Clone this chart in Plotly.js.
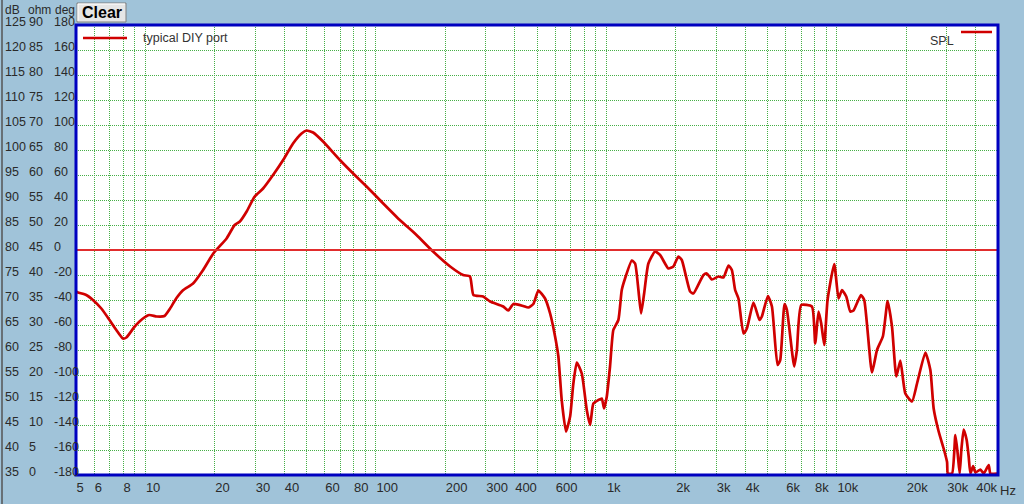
<!DOCTYPE html>
<html>
<head>
<meta charset="utf-8">
<script src="https://cdn.plot.ly/plotly-3.0.1.min.js"></script>
<style>
html,body{margin:0;padding:0;background:#a0c3d9;}
#chart{width:1024px;height:504px;}
</style>
</head>
<body>
<div id="chart"></div>
<script>
// ---- data ----
const freqHz = [5, 5.1, 5.54, 5.92, 6.44, 6.99, 7.48, 7.99, 8.27, 8.99,
  9.76, 10.4, 11.2, 12.1, 12.8, 13.6, 14.6, 16.1, 17.8, 19.7,
  22.5, 24.4, 25.7, 27.5, 29.8, 32.4, 35.8, 39.6, 43.7, 47.6,
  50.0, 53.4, 59.0, 69.8, 79.7, 91.1, 104, 127, 150, 177,
  210, 239, 256, 265, 292, 313, 357, 375, 395, 436,
  458, 482, 507, 542, 570, 599, 619, 640, 668, 696,
  719, 744, 782, 822, 850, 878, 923, 955, 977, 1004,
  1037, 1072, 1127, 1166, 1205, 1289, 1332, 1377, 1414, 1458,
  1521, 1627, 1710, 1858, 1953, 2053, 2124, 2308, 2386, 2638,
  2729, 2868, 3063, 3220, 3385, 3502, 3619, 3741, 3932, 4069,
  4346, 4615, 4727, 5020, 5226, 5526, 5678, 5927, 6071, 6530,
  6707, 7004, 7792, 8053, 8324, 8552, 8815, 9110, 9742, 10170,
  10520, 10980, 11430, 11810, 12720, 13140, 14200, 14930, 15850, 16600,
  17340, 18110, 18850, 19810, 21180, 22270, 24200, 25440, 26290, 27640,
  29050, 30060, 30300, 31600, 32660, 33420, 34090, 34670, 35480, 36560,
  37300, 37940, 38990, 39890, 41930, 43340, 45560, 46340, 49550];

const splDb = [71.7, 71.5, 71.0, 70.0, 68.3, 66.0, 64.0, 62.3, 62.5, 64.7,
  66.3, 67.0, 66.7, 66.8, 68.3, 70.3, 72.0, 73.3, 76.0, 79.3,
  82.3, 85.0, 85.7, 87.7, 90.7, 92.3, 95.0, 98.0, 101.3, 103.3,
  103.9, 103.5, 101.7, 98.0, 95.3, 92.7, 90.0, 86.0, 83.0, 79.7,
  76.7, 75.0, 74.7, 71.0, 70.7, 69.7, 68.7, 67.9, 69.2, 68.8,
  68.5, 69.2, 71.9, 70.3, 67.3, 62.7, 58.7, 50.0, 43.7, 46.7,
  53.3, 57.5, 55.3, 48.0, 45.0, 49.3, 50.0, 50.3, 48.3, 50.7,
  56.7, 64.0, 66.0, 72.0, 74.3, 77.9, 77.3, 72.0, 67.3, 71.3,
  77.3, 79.7, 79.0, 76.3, 76.7, 78.7, 78.0, 71.7, 71.3, 75.0,
  75.3, 74.1, 74.7, 74.5, 76.9, 76.0, 72.0, 70.3, 63.3, 64.3,
  69.5, 66.0, 66.7, 70.8, 68.7, 57.0, 58.0, 69.2, 68.0, 56.7,
  60.0, 69.0, 68.7, 61.3, 67.7, 65.3, 61.0, 70.0, 77.2, 70.3,
  72.0, 70.7, 67.7, 67.9, 71.0, 70.0, 55.5, 60.0, 62.8, 69.8,
  64.7, 54.7, 57.9, 51.3, 49.7, 53.3, 59.5, 56.0, 48.3, 43.7,
  40.3, 37.6, 35.3, 35.3, 43.0, 39.3, 35.3, 40.0, 44.1, 42.0,
  38.7, 35.3, 36.8, 35.5, 36.1, 35.3, 37.0, 35.3, 35.3];

const refLevelDb = 80;
const seriesName = "typical DIY port";
const curveLabel = "SPL";

// axis ticks
const xGridVals = [5,6,7,8,9,10,20,30,40,50,60,70,80,90,100,200,300,400,500,600,700,800,900,
  1000,2000,3000,4000,5000,6000,7000,8000,9000,10000,20000,30000,40000];
const xGridText = ["5","6","","8","","10","20","30","40","","60","","80","","100","200","300","400","","600","","","",
  "1k","2k","3k","4k","","6k","","8k","","10k","20k","30k","40k"];
const dbTicks  = [125,120,115,110,105,100,95,90,85,80,75,70,65,60,55,50,45,40,35];
const ohmTicks = [90,85,80,75,70,65,60,55,50,45,40,35,30,25,20,15,10,5,0];
const degTicks = [180,160,140,120,100,80,60,40,20,0,-20,-40,-60,-80,-100,-120,-140,-160,-180];

// ---- layout helpers (pixel -> paper) ----
const W = 1024, H = 504, ML = 76, MR = 26, MT = 25, MB = 29;
const PW = W - ML - MR, PH = H - MT - MB;
const px = v => (v - ML) / PW;
const py = v => 1 - (v - MT) / PH;

const FONT = "Liberation Sans, Arial, sans-serif";
const TXT = "#2a2a2a";
const GRID = "rgb(70,175,70)";

const annotations = [];
// y tick label columns
const colX = [3, 27, 52];
[dbTicks, ohmTicks, degTicks].forEach((arr, c) => {
  arr.forEach((v, i) => {
    annotations.push({
      xref: "paper", yref: "y", x: px(colX[c]), y: dbTicks[i],
      text: String(v), showarrow: false, xanchor: "left", yanchor: "middle",
      yshift: 3, font: {family: FONT, size: 12.5, color: TXT}
    });
  });
});
const headX = [3, 26, 53];
["dB", "ohm", "deg"].forEach((t, c) => {
  annotations.push({
    xref: "paper", yref: "paper", x: px(headX[c]), y: py(10),
    text: t, showarrow: false, xanchor: "left", yanchor: "middle",
    font: {family: FONT, size: 12, color: TXT}
  });
});
// Hz unit
annotations.push({xref:"paper", yref:"paper", x:px(998), y:py(490), text:"Hz", showarrow:false,
  xanchor:"left", yanchor:"middle", font:{family:FONT, size:13, color:TXT}});
// Clear button text
annotations.push({xref:"paper", yref:"paper", x:px(101.5), y:py(12.5), text:"<b>Clear</b>", showarrow:false,
  xanchor:"center", yanchor:"middle", font:{family:FONT, size:16, color:"#000"}});
// legend text
annotations.push({xref:"paper", yref:"paper", x:px(141), y:py(38), text:seriesName, showarrow:false,
  xanchor:"left", yanchor:"middle", font:{family:FONT, size:12.5, color:"#333"}});
annotations.push({xref:"paper", yref:"paper", x:px(956), y:py(41), text:curveLabel, showarrow:false,
  xanchor:"right", yanchor:"middle", font:{family:FONT, size:12.5, color:"#333"}});

const shapes = [
  // reference line at 0 deg / 80 dB
  {type:"line", xref:"paper", yref:"y", x0:0, x1:1, y0:refLevelDb, y1:refLevelDb,
   line:{color:"rgb(225,45,45)", width:2}, layer:"above"},
  // plot frame
  {type:"rect", xref:"paper", yref:"paper", x0:0, x1:1, y0:0, y1:1,
   line:{color:"#0000c0", width:3}},
  // legend samples
  {type:"line", xref:"paper", yref:"paper", x0:px(83), x1:px(127), y0:py(38), y1:py(38),
   line:{color:"#d00000", width:2.5}},
  {type:"line", xref:"paper", yref:"paper", x0:px(961), x1:px(992), y0:py(32), y1:py(32),
   line:{color:"#d00000", width:2.5}},
  // Clear button
  {type:"rect", xref:"paper", yref:"paper", x0:px(77), x1:px(126), y0:py(22), y1:py(3),
   line:{color:"#808080", width:1}, fillcolor:"#e6e6e6"},
  {type:"path", xref:"paper", yref:"paper",
   path:`M ${px(78)} ${py(21)} L ${px(78)} ${py(4)} L ${px(125)} ${py(4)}`,
   line:{color:"#ffffff", width:1}},
  // left panel edge
  {type:"line", xref:"paper", yref:"paper", x0:px(2), x1:px(2), y0:py(0), y1:py(504),
   line:{color:"#555", width:1.5}}
];

const trace = {
  x: freqHz, y: splDb, type: "scatter", mode: "lines", name: seriesName,
  line: {color: "#d00000", width: 2.7, shape: "spline", smoothing: 0.5},
  hoverinfo: "skip", cliponaxis: true
};

const layout = {
  width: W, height: H,
  margin: {l: ML, r: MR, t: MT, b: MB, pad: 0},
  paper_bgcolor: "#a0c3d9", plot_bgcolor: "#ffffff",
  showlegend: false,
  xaxis: {
    type: "log", range: [Math.log10(5), Math.log10(50000)],
    tickmode: "array", tickvals: xGridVals, ticktext: xGridText,
    ticklabelposition: "outside right", tickangle: 0,
    showgrid: true, gridcolor: GRID, griddash: "1px,1px", gridwidth: 1,
    ticks: "outside", ticklen: 3, tickcolor: "rgba(0,0,0,0)",
    tickfont: {family: FONT, size: 13, color: TXT},
    zeroline: false, showline: false, fixedrange: true
  },
  yaxis: {
    range: [35, 125], tickmode: "linear", tick0: 35, dtick: 5,
    showticklabels: false, showgrid: true, gridcolor: GRID, griddash: "1px,1px", gridwidth: 1,
    zeroline: false, showline: false, fixedrange: true
  },
  shapes: shapes,
  annotations: annotations
};

Plotly.newPlot("chart", [trace], layout, {staticPlot: true, displayModeBar: false});
</script>
</body>
</html>
